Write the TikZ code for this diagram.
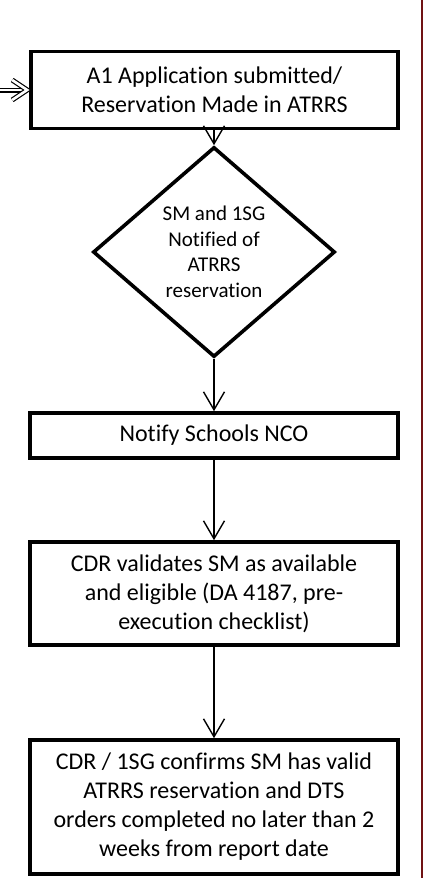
\documentclass[tikz,border=0pt]{standalone}
\usepackage{fontspec}
\setmainfont{Carlito}[Ligatures=NoCommon]
\usetikzlibrary{arrows.meta,shapes.geometric}
\definecolor{rule}{RGB}{112,18,20}
\tikzset{
  stepbox/.style={draw, line width=3.6pt, rectangle, inner sep=0pt, align=center,
    font=\fontsize{24}{29}\selectfont},
  decision/.style={draw, line width=3.6pt, diamond, inner sep=0pt, align=center,
    font=\fontsize{21}{25.5}\selectfont},
  flow/.style={line width=1.4pt, -{Straight Barb[length=18pt, width=21pt]}},
  inflow/.style={double, double distance=2.6pt, line width=1.2pt}
}
\begin{document}
\begin{tikzpicture}[x=1pt, y=-1pt]
  \useasboundingbox (0,0) rectangle (424,878);
  % frame rule at the right
  \draw[rule, line width=2.4pt] (422,0) -- (422,878);

  \node[stepbox, minimum width=367pt, minimum height=77pt] (app) at (214.5,90)
    {A1 Application submitted/\\Reservation Made in ATRRS};
  \node[decision, minimum width=242pt, minimum height=210pt] (notified) at (214,252)
    {SM and 1SG\\Notified of\\ATRRS\\reservation};
  \node[stepbox, minimum width=368pt, minimum height=45pt] (nco) at (214,435.5)
    {Notify Schools NCO};
  \node[stepbox, minimum width=368pt, minimum height=103pt] (validate) at (214,593.5)
    {CDR validates SM as available\\and eligible (DA 4187, pre-\\execution checklist)};
  \node[stepbox, minimum width=368pt, minimum height=134pt] (confirm) at (214,807)
    {CDR / 1SG confirms SM has valid\\ATRRS reservation and DTS\\orders completed no later than 2\\weeks from report date};

  % incoming double arrow with an open chevron head
  \coordinate (entry) at (0,90);
  \draw[inflow] (entry) -- ([xshift=-4pt]app.west);
  \draw[inflow, line join=miter] ([shift={(-17pt,-10pt)}]app.west)
    -- ([xshift=-2pt]app.west) -- ([shift={(-17pt,10pt)}]app.west);

  \draw[flow] (app.south -| notified.north) -- (notified.north);
  \draw[flow] (notified.south) -- (nco.north);
  \draw[flow] (nco.south) -- (validate.north);
  \draw[flow] (validate.south) -- (confirm.north);
\end{tikzpicture}
\end{document}
